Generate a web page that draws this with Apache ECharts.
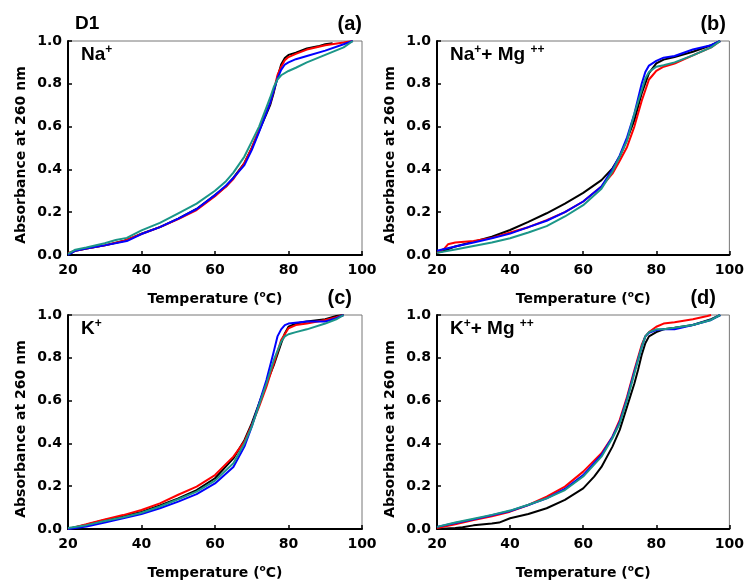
<!DOCTYPE html>
<html>
<head>
<meta charset="utf-8">
<script src="https://cdn.jsdelivr.net/npm/echarts@6/dist/echarts.min.js"></script>
<style>
html,body{margin:0;padding:0;background:#fff;}
#chart{width:747px;height:581px;}
</style>
</head>
<body>
<div id="chart"></div>
<script>
// ---- Data: [Temperature (°C), normalized absorbance at 260 nm] ----
const panelTitles = ['(a)', '(b)', '(c)', '(d)'];
const xTicks = [20, 40, 60, 80, 100];
const yTicks = [0.0, 0.2, 0.4, 0.6, 0.8, 1.0];
const seriesColors = ['#000000', '#ff0000', '#0000ff', '#1b9688'];

// Panel (a) Na+
const a_black = [[20,0.0],[22,0.02],[25,0.03],[30,0.045],[35,0.065],[38,0.085],[40,0.1],[45,0.13],[50,0.17],[55,0.215],[60,0.28],[63,0.32],[65,0.36],[68,0.43],[70,0.5],[72,0.58],[74,0.66],[75,0.7],[76,0.76],[77,0.83],[78,0.89],[79,0.92],[80,0.935],[82,0.945],[85,0.965],[88,0.975],[90,0.985],[92,0.99]];
const a_red = [[20,0.01],[22,0.02],[25,0.03],[30,0.045],[35,0.065],[40,0.098],[45,0.13],[50,0.168],[55,0.21],[60,0.275],[63,0.32],[65,0.355],[68,0.43],[70,0.5],[72,0.585],[74,0.67],[75,0.71],[76,0.77],[77,0.84],[78,0.88],[79,0.91],[80,0.925],[82,0.94],[85,0.96],[90,0.98],[95,0.993],[97.5,1.0]];
const a_blue = [[20,0.0],[22,0.02],[25,0.03],[30,0.045],[36,0.065],[40,0.098],[45,0.13],[50,0.17],[55,0.215],[60,0.28],[63,0.325],[65,0.36],[68,0.42],[70,0.49],[72,0.575],[74,0.665],[75,0.71],[76,0.77],[77,0.825],[78,0.865],[79,0.89],[80,0.9],[82,0.915],[85,0.93],[90,0.955],[95,0.985],[97.5,1.0]];
const a_teal = [[20,0.005],[22,0.025],[25,0.035],[30,0.055],[33,0.07],[36,0.08],[40,0.115],[45,0.15],[50,0.195],[55,0.24],[60,0.3],[63,0.345],[65,0.385],[68,0.46],[70,0.53],[72,0.6],[74,0.69],[75,0.735],[76,0.785],[77,0.82],[78,0.84],[80,0.86],[82,0.875],[85,0.9],[90,0.935],[95,0.97],[97.5,1.0]];

// Panel (b) Na+ + Mg++
const b_black = [[20,0.01],[22,0.02],[25,0.04],[30,0.062],[35,0.085],[40,0.117],[45,0.155],[50,0.195],[55,0.24],[60,0.29],[65,0.35],[68,0.405],[70,0.46],[72,0.54],[74,0.63],[76,0.755],[78,0.85],[80,0.895],[82,0.913],[85,0.925],[90,0.95],[95,0.98],[97.5,1.0]];
const b_red = [[20,0.01],[22,0.03],[23,0.05],[25,0.058],[30,0.065],[35,0.08],[40,0.105],[45,0.13],[50,0.163],[55,0.2],[60,0.25],[65,0.32],[68,0.38],[70,0.44],[72,0.505],[74,0.6],[75,0.66],[76,0.72],[77,0.77],[78,0.82],[79,0.84],[80,0.86],[82,0.88],[85,0.895],[90,0.933],[95,0.97],[97.5,1.0]];
const b_blue = [[20,0.02],[25,0.04],[30,0.058],[35,0.078],[40,0.1],[45,0.13],[50,0.16],[55,0.2],[60,0.25],[65,0.32],[68,0.4],[70,0.465],[72,0.55],[74,0.66],[76,0.8],[77,0.855],[78,0.885],[80,0.907],[82,0.922],[85,0.93],[90,0.96],[95,0.98],[97.5,1.0]];
const b_teal = [[20,0.01],[25,0.026],[30,0.042],[35,0.058],[40,0.078],[45,0.105],[50,0.135],[55,0.18],[60,0.233],[65,0.31],[68,0.39],[70,0.46],[72,0.535],[74,0.66],[76,0.77],[77,0.825],[78,0.855],[80,0.88],[82,0.887],[85,0.9],[90,0.933],[95,0.97],[97.5,1.0]];

// Panel (c) K+
const c_black = [[20,0.0],[25,0.02],[30,0.042],[35,0.06],[40,0.08],[45,0.11],[50,0.143],[55,0.182],[60,0.237],[65,0.33],[68,0.415],[70,0.494],[72,0.587],[74,0.68],[76,0.766],[78,0.867],[79,0.914],[80,0.945],[82,0.96],[85,0.97],[90,0.98],[93,0.995],[95,1.0]];
const c_red = [[20,0.0],[25,0.022],[30,0.045],[35,0.065],[40,0.089],[45,0.12],[50,0.16],[55,0.198],[60,0.252],[65,0.338],[68,0.408],[70,0.486],[72,0.572],[74,0.665],[76,0.774],[78,0.883],[80,0.938],[82,0.953],[85,0.96],[90,0.977],[93,0.99],[95,1.0]];
const c_blue = [[20,0.0],[25,0.012],[30,0.03],[35,0.05],[40,0.07],[45,0.097],[50,0.128],[55,0.163],[60,0.213],[65,0.29],[68,0.385],[70,0.478],[72,0.587],[74,0.696],[76,0.83],[77,0.9],[78,0.933],[79,0.953],[80,0.96],[85,0.97],[90,0.97],[93,0.985],[95,1.0]];
const c_teal = [[20,0.005],[25,0.018],[30,0.037],[35,0.055],[40,0.076],[45,0.105],[50,0.139],[55,0.175],[60,0.226],[65,0.307],[68,0.4],[70,0.478],[72,0.58],[74,0.68],[76,0.79],[78,0.875],[79,0.9],[80,0.91],[82,0.92],[85,0.933],[90,0.96],[93,0.98],[95,1.0]];

// Panel (d) K+ + Mg++
const d_black = [[20,0.0],[25,0.005],[27,0.008],[30,0.017],[35,0.026],[37,0.03],[40,0.05],[45,0.07],[50,0.097],[55,0.136],[60,0.19],[63,0.245],[65,0.29],[68,0.385],[70,0.463],[72,0.572],[74,0.68],[75,0.743],[76,0.813],[77,0.868],[78,0.9],[80,0.92],[82,0.933],[85,0.94],[90,0.953],[95,0.98],[97.5,1.0]];
const d_red = [[20,0.005],[25,0.022],[30,0.042],[35,0.06],[40,0.081],[45,0.112],[50,0.151],[55,0.198],[60,0.268],[65,0.354],[68,0.431],[70,0.51],[72,0.618],[74,0.743],[76,0.86],[77,0.9],[78,0.92],[80,0.945],[82,0.96],[85,0.966],[90,0.98],[94,0.995],[95,1.0]];
const d_blue = [[20,0.01],[25,0.028],[30,0.045],[35,0.064],[40,0.084],[45,0.112],[50,0.143],[55,0.187],[60,0.252],[65,0.346],[68,0.43],[70,0.5],[72,0.61],[74,0.735],[76,0.85],[77,0.9],[78,0.917],[80,0.93],[82,0.933],[85,0.933],[90,0.953],[95,0.977],[97.5,1.0]];
const d_teal = [[20,0.01],[25,0.03],[30,0.048],[35,0.066],[40,0.086],[45,0.113],[50,0.143],[55,0.182],[60,0.245],[65,0.338],[68,0.424],[70,0.494],[72,0.603],[74,0.727],[76,0.85],[77,0.9],[78,0.92],[80,0.933],[82,0.933],[85,0.94],[90,0.953],[95,0.977],[97.5,1.0]];

const panels = [
  [a_black, a_red, a_blue, a_teal],
  [b_black, b_red, b_blue, b_teal],
  [c_black, c_red, c_blue, c_teal],
  [d_black, d_red, d_blue, d_teal]
];

// ---- Layout ----
const gridBoxes = [
  {left: 68, top: 41, width: 294, height: 214},
  {left: 437, top: 41, width: 294, height: 214},
  {left: 68, top: 315, width: 294, height: 214},
  {left: 437, top: 315, width: 294, height: 214}
];

const chart = echarts.init(document.getElementById('chart'), null, {renderer: 'canvas'});

const grids = gridBoxes.map(g => Object.assign({show: true, borderColor: '#777', borderWidth: 1, containLabel: false}, g));

const tickFont = {color: '#000', fontWeight: 'bold', fontSize: 14, fontFamily: 'DejaVu Sans, sans-serif'};

const xAxes = gridBoxes.map((g, i) => ({
  type: 'value', gridIndex: i, min: xTicks[0], max: xTicks[xTicks.length - 1], interval: 20,
  name: '{t|Temperature (}{s|o}{t|C)}',
  nameLocation: 'middle', nameGap: 35,
  nameTextStyle: {
    rich: {
      t: {fontFamily: 'DejaVu Sans', fontWeight: 'bold', fontSize: 14, color: '#000', lineHeight: 18},
      s: {fontFamily: 'DejaVu Sans', fontWeight: 'bold', fontSize: 9, color: '#000', lineHeight: 8, verticalAlign: 'top'}
    }
  },
  axisLine: {show: true, onZero: false, lineStyle: {color: '#000', width: 2}},
  axisTick: {show: true, inside: true, length: 4, lineStyle: {color: '#000', width: 1.5}},
  axisLabel: Object.assign({margin: 8, showMinLabel: true, showMaxLabel: true}, tickFont),
  splitLine: {show: false}
}));

const yAxes = gridBoxes.map((g, i) => ({
  type: 'value', gridIndex: i, min: 0, max: 1, interval: 0.2,
  name: 'Absorbance at 260 nm',
  nameLocation: 'middle', nameGap: 40,
  nameTextStyle: {fontFamily: 'DejaVu Sans, sans-serif', fontWeight: 'bold', fontSize: 14, color: '#000', padding: [0, 14, 0, 0]},
  axisLine: {show: true, onZero: false, lineStyle: {color: '#000', width: 2}},
  axisTick: {show: true, inside: true, length: 4, lineStyle: {color: '#000', width: 1.5}},
  axisLabel: Object.assign({margin: 6, formatter: v => v.toFixed(1)}, tickFont),
  splitLine: {show: false}
}));

const series = [];
panels.forEach((curves, pi) => {
  curves.forEach((data, ci) => {
    series.push({
      type: 'line', xAxisIndex: pi, yAxisIndex: pi, data: data,
      showSymbol: false, symbol: 'none', smooth: false, animation: false,
      lineStyle: {color: seriesColors[ci], width: 2},
      z: 2 + ci
    });
  });
});

const supRich = {
  n: {fontFamily: 'Liberation Sans, Arial, sans-serif', fontWeight: 'bold', fontSize: 19, color: '#000', lineHeight: 22},
  s: {fontFamily: 'Liberation Sans, Arial, sans-serif', fontWeight: 'bold', fontSize: 12, color: '#000', lineHeight: 12, verticalAlign: 'top'}
};
const ionLabels = ['{n|Na}{s|+}', '{n|Na}{s|+}{n|+ Mg }{s|++}', '{n|K}{s|+}', '{n|K}{s|+}{n|+ Mg }{s|++}'];

const graphics = [];
gridBoxes.forEach((g, i) => {
  graphics.push({
    type: 'text', left: g.left + 13, top: g.top + 3,
    style: {text: ionLabels[i], rich: supRich}
  });
  graphics.push({
    type: 'text', right: 747 - (g.left + g.width) + (i % 2 === 0 ? 0 : 5) + (i >= 2 ? 10 : 0), top: g.top - 27,
    style: {text: panelTitles[i], fontFamily: 'Liberation Sans, Arial, sans-serif', fontWeight: 'bold', fontSize: 20, fill: '#000'}
  });
});
graphics.push({
  type: 'text', left: 75, top: 14,
  style: {text: 'D1', fontFamily: 'Liberation Sans, Arial, sans-serif', fontWeight: 'bold', fontSize: 19, fill: '#000'}
});

chart.setOption({
  backgroundColor: '#fff',
  animation: false,
  grid: grids,
  xAxis: xAxes,
  yAxis: yAxes,
  series: series,
  graphic: graphics
});
</script>
</body>
</html>
